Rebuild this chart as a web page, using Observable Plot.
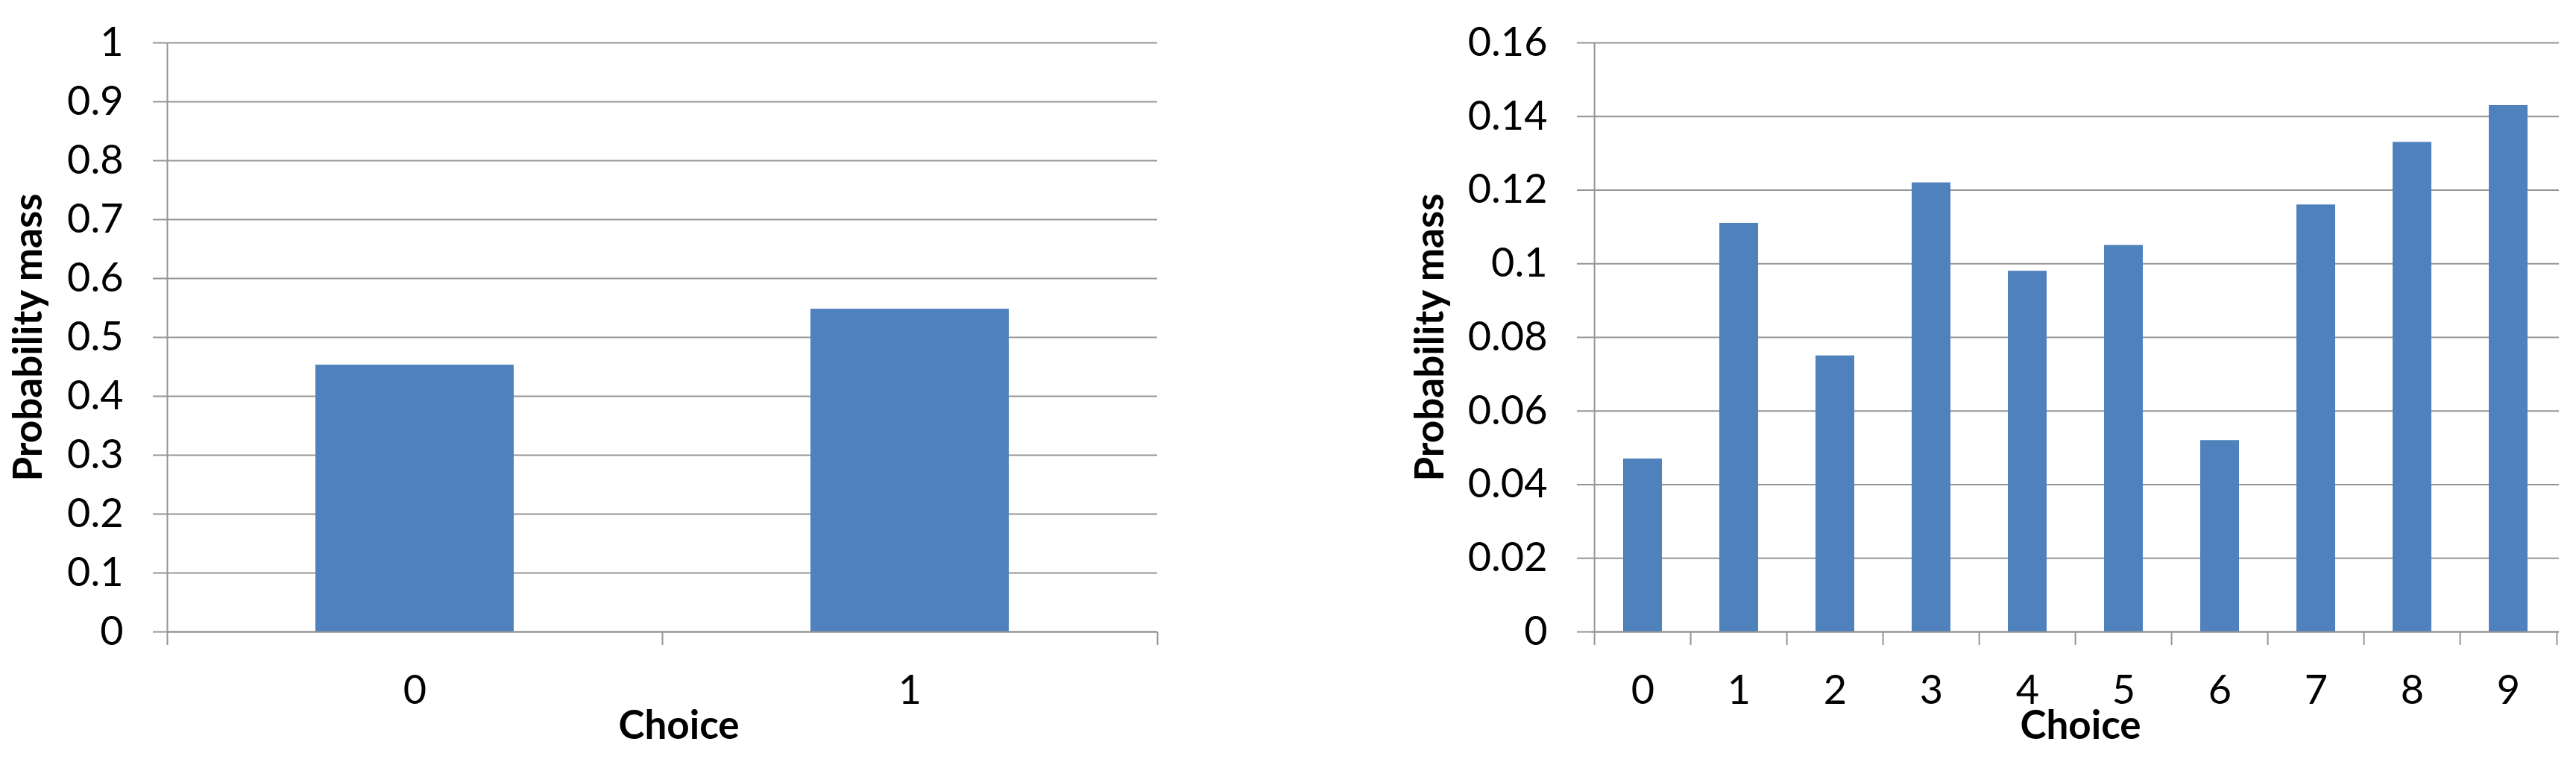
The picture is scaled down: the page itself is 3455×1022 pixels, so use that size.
<!DOCTYPE html>
<html><head><meta charset="utf-8">
<script src="https://cdn.jsdelivr.net/npm/d3@7"></script>
<script src="https://cdn.jsdelivr.net/npm/@observablehq/plot@0.6"></script>
<style>
body{margin:0;background:#fff;width:3455px;height:1022px;position:relative;overflow:hidden;font-family:Lato,sans-serif}
#left{position:absolute;left:0;top:0}
#right{position:absolute;left:1850px;top:0}
</style></head><body>
<div id="left"></div><div id="right"></div>
<script>
// Left panel: two choices
const choicesLeft = [0, 1];
const massLeft = [0.453, 0.548];
const yTicksLeft = [0, 0.1, 0.2, 0.3, 0.4, 0.5, 0.6, 0.7, 0.8, 0.9, 1];

// Right panel: ten choices
const choicesRight = [0, 1, 2, 3, 4, 5, 6, 7, 8, 9];
const massRight = [0.047, 0.111, 0.075, 0.122, 0.098, 0.105, 0.052, 0.116, 0.133, 0.143];
const yTicksRight = [0, 0.02, 0.04, 0.06, 0.08, 0.1, 0.12, 0.14, 0.16];

const yLabel = "Probability mass";
const xLabel = "Choice";

function chart({choices, mass, yTicks, yMax, width, marginLeft, marginRight, yLabelX, xLabelDx}) {
  const data = choices.map((c, i) => ({choice: c, p: mass[i]}));
  const height = 1022, marginTop = 57, marginBottom = 175;
  const frameH = height - marginTop - marginBottom;
  const step = (width - marginLeft - marginRight) / choices.length;
  const gray = "#959595";
  const last = choices[choices.length - 1];
  return Plot.plot({
    width, height, marginLeft, marginRight, marginTop, marginBottom,
    style: {fontFamily: "Lato, sans-serif", background: "#fff", color: "#000", overflow: "visible"},
    x: {domain: choices, type: "band", paddingInner: 0.6, paddingOuter: 0.3, axis: null},
    y: {domain: [0, yMax], axis: null},
    marks: [
      Plot.ruleY(yTicks, {stroke: gray, strokeWidth: 2, insetLeft: -19}),
      Plot.barY(data, {x: "choice", y: "p", fill: "#4f81bd"}),
      Plot.ruleY([0], {stroke: gray, strokeWidth: 2}),
      Plot.ruleX(choices, {x: d => d, dx: -step / 2, stroke: gray, strokeWidth: 2, insetTop: frameH, insetBottom: -18}),
      Plot.ruleX([last], {x: d => d, dx: step / 2, stroke: gray, strokeWidth: 2, insetTop: frameH, insetBottom: -18}),
      Plot.ruleX([choices[0]], {x: d => d, dx: -step / 2, stroke: gray, strokeWidth: 2}),
      Plot.axisX({tickSize: 0, tickPadding: 58, fontSize: 54, label: null}),
      Plot.axisY({ticks: yTicks, tickFormat: d3.format("~g"), tickSize: 0, tickPadding: 59, fontSize: 54, label: null}),
      Plot.text([yLabel], {text: d => d, frameAnchor: "left", textAnchor: "middle", rotate: -90, dx: yLabelX - marginLeft, fontWeight: "bold", fontSize: 53}),
      Plot.text([xLabel], {text: d => d, frameAnchor: "bottom", textAnchor: "middle", lineAnchor: "bottom", dx: xLabelDx, dy: 143, fontWeight: "bold", fontSize: 53})
    ]
  });
}

document.getElementById("left").append(chart({
  choices: choicesLeft, mass: massLeft, yTicks: yTicksLeft, yMax: 1,
  width: 1600, marginLeft: 224, marginRight: 48, yLabelX: 39, xLabelDx: 22
}));
document.getElementById("right").append(chart({
  choices: choicesRight, mass: massRight, yTicks: yTicksRight, yMax: 0.16,
  width: 1605, marginLeft: 284, marginRight: 23, yLabelX: 69, xLabelDx: 7
}));
</script>
</body></html>
